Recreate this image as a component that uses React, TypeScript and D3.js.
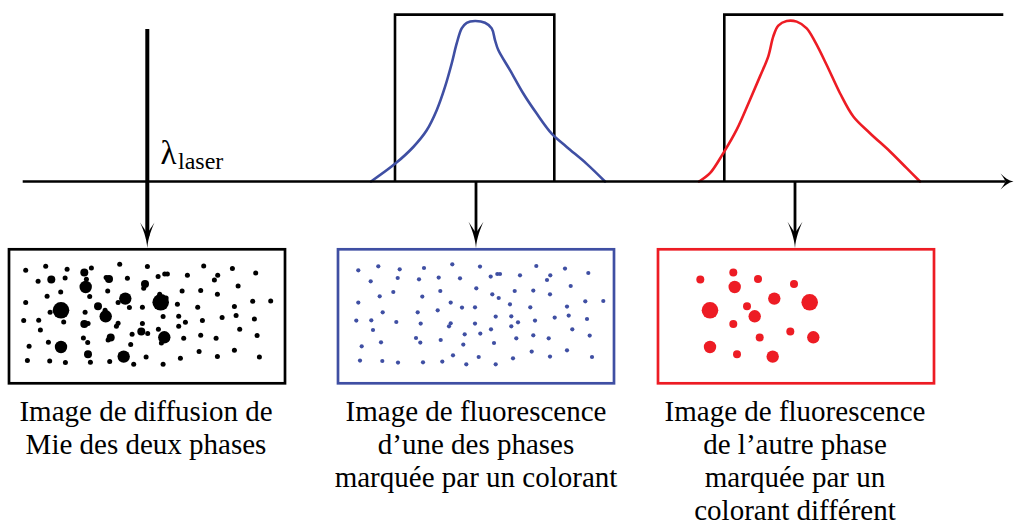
import React from "react";
import * as d3 from "d3";

// ---------- data ----------
// spectra: [wavelength position, normalised intensity]
const blueSpectrum: [number, number][] = [
  [371, 0], [395, 0.11], [413.3, 0.215], [426.7, 0.319], [436.7, 0.444], [445, 0.589],
  [451.7, 0.735], [456.7, 0.86], [461.7, 0.954], [466.7, 0.989], [475, 1.0], [485, 0.989],
  [491.7, 0.954], [495, 0.881], [498.3, 0.819], [510, 0.694], [523.3, 0.548], [536.7, 0.423],
  [551.7, 0.298], [566.7, 0.215], [586.7, 0.11], [605, 0],
];
const redSpectrum: [number, number][] = [
  [699, 0], [710, 0.052], [723.3, 0.177], [736.7, 0.323], [750, 0.51], [760, 0.655],
  [768.3, 0.78], [773.3, 0.904], [778.3, 0.971], [786.7, 1.0], [796.7, 0.996], [806.7, 0.954],
  [815, 0.871], [826.7, 0.726], [840, 0.55], [853.3, 0.405], [870, 0.301], [890, 0.187],
  [906.7, 0.083], [920, 0],
];
// filters: [start, end, transmission height]
const blueFilter: [number, number, number] = [395, 554.3, 1.04];
const redFilter: [number, number, number] = [724.3, 1003.3, 1.04];
const laserLambda = 147.3;
const blueDetect = 476;
const redDetect = 795;

// droplets in image coordinates
const smallDrops: [number, number][] = [
  [21.3, 22.0], [41.3, 18.0], [62.7, 21.0], [87.0, 19.7], [115.3, 16.0], [143.0, 18.3], [199.3, 17.7],
  [228.0, 20.3], [251.3, 24.7], [33.7, 33.0], [60.7, 29.7], [82.0, 31.0], [101.7, 29.3], [123.0, 30.0],
  [153.7, 28.3], [160.3, 25.7], [163.0, 25.7], [183.0, 27.0], [210.0, 31.7], [213.3, 27.0], [42.7, 48.0],
  [56.3, 43.7], [85.3, 48.3], [103.3, 42.7], [139.3, 40.0], [155.3, 46.0], [161.7, 49.7], [177.7, 42.7],
  [196.3, 42.3], [213.0, 46.0], [233.7, 37.7], [21.3, 54.3], [113.7, 54.3], [125.0, 59.3], [138.0, 59.0],
  [173.0, 56.0], [193.3, 59.0], [230.0, 58.3], [248.3, 53.0], [266.3, 52.7], [45.7, 64.0], [80.7, 64.0],
  [100.7, 62.0], [19.3, 72.3], [34.3, 72.0], [59.3, 73.7], [83.7, 75.3], [112.0, 78.0], [113.7, 75.0],
  [138.0, 75.3], [158.7, 68.3], [174.3, 68.0], [181.0, 74.0], [174.3, 78.0], [198.0, 72.3], [217.7, 69.3],
  [231.7, 67.3], [250.0, 70.7], [36.0, 81.7], [154.0, 81.0], [235.3, 81.0], [127.7, 86.0], [143.3, 85.3],
  [196.3, 87.0], [179.3, 90.0], [211.7, 90.0], [252.7, 87.3], [79.0, 89.7], [83.3, 94.3], [103.7, 91.7],
  [44.0, 94.0], [126.3, 96.3], [157.0, 94.7], [24.7, 98.0], [116.0, 107.0], [141.7, 108.7], [194.7, 103.3],
  [230.0, 102.0], [176.0, 110.0], [213.0, 108.3], [255.0, 108.7], [23.0, 112.3], [45.3, 112.7],
  [61.0, 114.3], [86.0, 114.0], [105.3, 113.3], [129.3, 116.0], [158.7, 116.0],
];
// [x, y, size class]
const largeDrops: [number, number, number][] = [
  [43.3, 31.3, 1], [76.3, 24.3, 1], [77.7, 38.7, 2], [101.0, 30.7, 1], [137.0, 35.7, 1],
  [117.3, 50.3, 2], [152.7, 54.0, 3], [53.0, 62.0, 3], [90.0, 58.0, 1], [97.7, 68.0, 2],
  [76.3, 75.7, 1], [102.7, 89.3, 1], [133.3, 83.3, 1], [156.3, 89.0, 2], [53.0, 98.7, 2],
  [80.0, 106.0, 1], [115.7, 108.3, 2],
];

const captionMie = ["Image de diffusion de", "Mie des deux phases"];
const captionBlue = ["Image de fluorescence", "d’une des phases", "marquée par un colorant"];
const captionRed = ["Image de fluorescence", "de l’autre phase", "marquée par un", "colorant différent"];

// ---------- styles ----------
const BLUE = "#3f4fa3";
const RED = "#ed1c24";
const FONT = "'Liberation Serif', 'Times New Roman', serif";

const W = 1014;
const H = 526;

export default function App() {
  const x = d3.scaleLinear().domain([0, W]).range([0, W]);
  const axisY = 181.5;
  const y = d3.scaleLinear().domain([0, 1]).range([axisY, 21]);
  const line = d3
    .line<[number, number]>()
    .x((d) => x(d[0]))
    .y((d) => y(d[1]))
    .curve(d3.curveCatmullRom.alpha(0.5));

  const panelTop = 249.3;
  const panelW = 276;
  const panelH = 134;
  const sizeR = d3.scaleOrdinal<number, number>().domain([1, 2, 3]).range([4, 6.2, 8.3]);

  const panels = [
    { left: 9, color: "#000", small: true, smallR: 2.5, smallDx: -3.6, large: true, caption: captionMie, cx: 146 },
    { left: 338, color: BLUE, small: true, smallR: 2.1, smallDx: 0, large: false, caption: captionBlue, cx: 476 },
    { left: 658, color: RED, small: false, smallR: 0, smallDx: 0, large: true, caption: captionRed, cx: 795 },
  ];

  const filterPath = (f: [number, number, number], closedRight: boolean) => {
    const x0 = x(f[0]);
    const x1 = x(f[1]);
    const yt = y(f[2]);
    return closedRight
      ? `M${x0},${axisY} L${x0},${yt} L${x1},${yt} L${x1},${axisY}`
      : `M${x0},${axisY} L${x0},${yt} L${x1},${yt}`;
  };

  const downArrow = (cx: number, yTip: number, half: number, len: number) =>
    `M${cx},${yTip} C${cx - 0.8},${yTip - len * 0.4} ${cx - half * 0.6},${yTip - len * 0.75} ${cx - half},${yTip - len}` +
    ` C${cx - half * 0.5},${yTip - len * 0.78} ${cx - 0.5},${yTip - len * 0.62} ${cx},${yTip - len * 0.55}` +
    ` C${cx + 0.5},${yTip - len * 0.62} ${cx + half * 0.5},${yTip - len * 0.78} ${cx + half},${yTip - len}` +
    ` C${cx + half * 0.6},${yTip - len * 0.75} ${cx + 0.8},${yTip - len * 0.4} ${cx},${yTip} Z`;

  const axisEnd = 1013.5;
  const axisHead =
    `M${axisEnd},${axisY} C${axisEnd - 5},${axisY - 1} ${axisEnd - 9},${axisY - 4} ${axisEnd - 13},${axisY - 8}` +
    ` C${axisEnd - 10},${axisY - 4} ${axisEnd - 8.5},${axisY - 1.5} ${axisEnd - 8},${axisY}` +
    ` C${axisEnd - 8.5},${axisY + 1.5} ${axisEnd - 10},${axisY + 4} ${axisEnd - 13},${axisY + 8}` +
    ` C${axisEnd - 9},${axisY + 4} ${axisEnd - 5},${axisY + 1} ${axisEnd},${axisY} Z`;

  return (
    <svg
      width={W}
      height={H}
      viewBox={`0 0 ${W} ${H}`}
      style={{ position: "absolute", left: 0, top: 0, background: "#fff" }}
    >
      <rect x={0} y={0} width={W} height={H} fill="#fff" />
      {/* filters */}
      <path d={filterPath(blueFilter, true)} fill="none" stroke="#000" strokeWidth={2.6} />
      <path d={filterPath(redFilter, false)} fill="none" stroke="#000" strokeWidth={2.6} />
      {/* spectra */}
      <path d={line(blueSpectrum) || ""} fill="none" stroke={BLUE} strokeWidth={2.6} strokeLinecap="round" />
      <path d={line(redSpectrum) || ""} fill="none" stroke={RED} strokeWidth={2.6} strokeLinecap="round" />
      {/* wavelength axis */}
      <line x1={22.7} y1={axisY} x2={axisEnd - 8} y2={axisY} stroke="#000" strokeWidth={2.6} />
      <path d={axisHead} fill="#000" />
      {/* laser */}
      <line x1={x(laserLambda)} y1={29} x2={x(laserLambda)} y2={236} stroke="#000" strokeWidth={4} />
      <path d={downArrow(x(laserLambda), 248, 7.2, 25.5)} fill="#000" />
      <text x={160.5} y={163.5} fontFamily={FONT} fontSize={33} fill="#000">
        λ
      </text>
      <text x={178} y={168.5} fontFamily={FONT} fontSize={24} fill="#000">
        laser
      </text>
      {/* detection arrows */}
      {[blueDetect, redDetect].map((d, i) => (
        <g key={i}>
          <line x1={x(d)} y1={axisY} x2={x(d)} y2={236} stroke="#000" strokeWidth={2.8} />
          <path d={downArrow(x(d), 248.3, 7.5, 26.5)} fill="#000" />
        </g>
      ))}
      {/* image panels */}
      {panels.map((p, i) => {
        const px = d3.scaleLinear().domain([0, panelW]).range([p.left - 1, p.left - 1 + panelW]);
        const py = d3.scaleLinear().domain([0, panelH]).range([panelTop - 1, panelTop - 1 + panelH]);
        return (
          <g key={i}>
            <rect x={p.left} y={panelTop} width={panelW} height={panelH} fill="#fff" stroke={p.color} strokeWidth={2.7} />
            {p.small &&
              smallDrops.map((d, j) => (
                <circle key={"s" + j} cx={px(d[0] + p.smallDx)} cy={py(d[1])} r={p.smallR} fill={p.color} />
              ))}
            {p.large &&
              largeDrops.map((d, j) => (
                <circle key={"l" + j} cx={px(d[0])} cy={py(d[1])} r={sizeR(d[2])} fill={p.color} />
              ))}
            {p.caption.map((t, j) => (
              <text
                key={"t" + j}
                x={p.cx}
                y={421 + j * 33}
                textAnchor="middle"
                fontFamily={FONT}
                fontSize={29}
                fill="#000"
              >
                {t}
              </text>
            ))}
          </g>
        );
      })}
    </svg>
  );
}
